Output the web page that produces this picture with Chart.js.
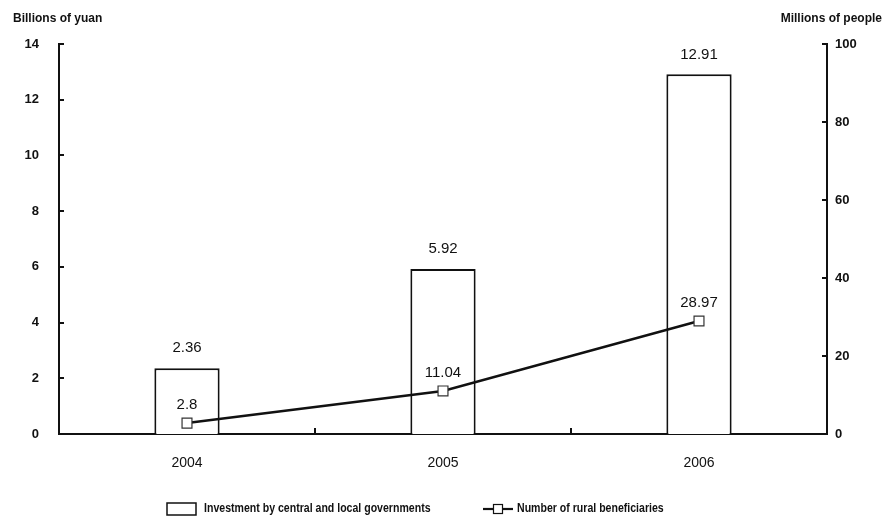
<!DOCTYPE html>
<html>
<head>
<meta charset="utf-8">
<script src="https://cdn.jsdelivr.net/npm/chart.js@4/dist/chart.umd.min.js"></script>
<style>
  html, body { margin: 0; padding: 0; background: #fff; }
  #wrap { width: 884px; height: 517px; position: relative; }
</style>
</head>
<body>
<div id="wrap"><canvas id="c" width="884" height="517"></canvas></div>
<script>
// Data
const years = ['2004', '2005', '2006'];
const investment = [2.36, 5.92, 12.91];        // billions of yuan
const beneficiaries = [2.8, 11.04, 28.97];      // millions of people
const leftTicks = [0, 2, 4, 6, 8, 10, 12, 14];
const rightTicks = [0, 20, 40, 60, 80, 100];
const seriesNames = ['Investment by central and local governments', 'Number of rural beneficiaries'];
const axisTitles = ['Billions of yuan', 'Millions of people'];

const SANS = '"Liberation Sans", Arial, sans-serif';

// Draws text squeezed horizontally to imitate a condensed face
function narrowText(ctx, text, x, y, sx) {
  ctx.save();
  ctx.translate(x, y);
  ctx.scale(sx, 1);
  ctx.fillText(text, 0, 0);
  ctx.restore();
}

// Inward tick marks, value labels, axis titles and legend
const decorations = {
  id: 'decorations',
  afterDraw(chart) {
    const ctx = chart.ctx;
    const ca = chart.chartArea;
    const yl = chart.scales.y, yr = chart.scales.y1, x = chart.scales.x;
    ctx.save();
    ctx.strokeStyle = '#111';
    ctx.lineWidth = 2;
    // left axis ticks
    leftTicks.forEach(v => {
      const py = Math.round(yl.getPixelForValue(v));
      ctx.beginPath(); ctx.moveTo(ca.left, py); ctx.lineTo(ca.left + 5, py); ctx.stroke();
    });
    rightTicks.forEach(v => {
      const py = Math.round(yr.getPixelForValue(v));
      ctx.beginPath(); ctx.moveTo(ca.right, py); ctx.lineTo(ca.right - 5, py); ctx.stroke();
    });
    // category boundary ticks on x axis
    for (let i = 0; i < years.length - 1; i++) {
      const px = Math.round((x.getPixelForValue(i) + x.getPixelForValue(i + 1)) / 2);
      ctx.beginPath(); ctx.moveTo(px, ca.bottom); ctx.lineTo(px, ca.bottom - 6); ctx.stroke();
    }

    // value labels
    ctx.fillStyle = '#111';
    ctx.font = '15px ' + SANS;
    ctx.textAlign = 'center';
    ctx.textBaseline = 'middle';
    const barMeta = chart.getDatasetMeta(0);
    barMeta.data.forEach((bar, i) => {
      ctx.fillText(investment[i].toFixed(2), bar.x, bar.y - 20);
    });
    const lineMeta = chart.getDatasetMeta(1);
    lineMeta.data.forEach((pt, i) => {
      ctx.fillText(String(beneficiaries[i]), pt.x, pt.y - 18);
    });

    // axis titles
    ctx.font = 'bold 12px ' + SANS;
    ctx.textBaseline = 'middle';
    ctx.textAlign = 'left';
    ctx.fillText(axisTitles[0], 13, 19);
    ctx.textAlign = 'right';
    ctx.fillText(axisTitles[1], 882, 19);

    // legend
    const ly = 509;
    ctx.lineWidth = 1.5;
    ctx.strokeStyle = '#111';
    ctx.fillStyle = '#fff';
    ctx.fillRect(167, ly - 6, 29, 12);
    ctx.strokeRect(167, ly - 6, 29, 12);
    ctx.fillStyle = '#111';
    ctx.font = 'bold 12px ' + SANS;
    ctx.textAlign = 'left';
    narrowText(ctx, seriesNames[0], 204, ly, 0.88);
    ctx.lineWidth = 2.2;
    ctx.beginPath(); ctx.moveTo(483, ly); ctx.lineTo(513, ly); ctx.stroke();
    ctx.fillStyle = '#fff';
    ctx.lineWidth = 1.2;
    ctx.fillRect(493.5, ly - 4.5, 9, 9);
    ctx.strokeRect(493.5, ly - 4.5, 9, 9);
    ctx.fillStyle = '#111';
    narrowText(ctx, seriesNames[1], 517, ly, 0.88);
    ctx.restore();
  }
};

new Chart(document.getElementById('c'), {
  data: {
    labels: years,
    datasets: [
      {
        type: 'bar',
        label: seriesNames[0],
        data: investment,
        yAxisID: 'y',
        backgroundColor: '#fff',
        borderColor: '#111',
        borderWidth: 2,
        barPercentage: 0.255,
        categoryPercentage: 1,
        order: 2
      },
      {
        type: 'line',
        label: seriesNames[1],
        data: beneficiaries,
        yAxisID: 'y1',
        borderColor: '#111',
        borderWidth: 2.5,
        pointStyle: 'rect',
        pointRadius: 7,
        pointBackgroundColor: '#fff',
        pointBorderColor: '#333',
        pointBorderWidth: 1.2,
        tension: 0,
        order: 1
      }
    ]
  },
  options: {
    responsive: false,
    animation: false,
    layout: { padding: { top: 44, left: 0, right: 0, bottom: 0 } },
    plugins: { legend: { display: false }, tooltip: { enabled: false } },
    scales: {
      x: {
        grid: { display: false, drawTicks: false },
        border: { display: true, color: '#111', width: 2 },
        ticks: { color: '#111', font: { family: SANS, size: 14 }, padding: 21 },
        afterFit(s) { s.height = 83; }
      },
      y: {
        position: 'left',
        min: 0, max: 14,
        afterBuildTicks(s) { s.ticks = leftTicks.map(v => ({ value: v })); },
        grid: { display: false, drawTicks: false },
        border: { display: true, color: '#111', width: 2 },
        ticks: { color: '#111', font: { family: SANS, size: 13, weight: 'bold' }, padding: 20 },
        afterFit(s) { s.width = 59; }
      },
      y1: {
        position: 'right',
        min: 0, max: 100,
        afterBuildTicks(s) { s.ticks = rightTicks.map(v => ({ value: v })); },
        grid: { display: false, drawTicks: false },
        border: { display: true, color: '#111', width: 2 },
        ticks: { color: '#111', font: { family: SANS, size: 13, weight: 'bold' }, padding: 8 },
        afterFit(s) { s.width = 57; }
      }
    }
  },
  plugins: [decorations]
});
</script>
</body>
</html>
